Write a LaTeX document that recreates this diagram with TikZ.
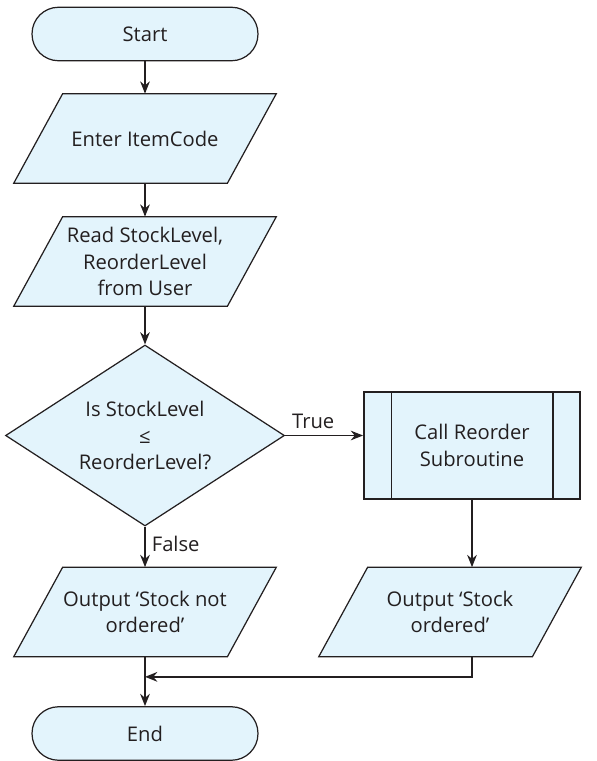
\documentclass[tikz,border=0pt]{standalone}
\usepackage{fontspec}
\setmainfont{Open Sans}
\usetikzlibrary{positioning, arrows.meta, calc, shapes.geometric, backgrounds}
\definecolor{chartFill}{RGB}{227,244,252}
\definecolor{chartInk}{RGB}{35,31,32}

\begin{document}
\begin{tikzpicture}[
    x=0.02cm, y=-0.02cm,
    >={Stealth[length=7pt, width=5.5pt]},
    font=\fontsize{11.5}{15}\selectfont,
    term/.style={draw=chartInk, fill=chartFill, rectangle, rounded corners=0.53cm,
                 minimum width=4.52cm, minimum height=1.07cm, line width=0.7pt,
                 text=chartInk},
    io/.style={rectangle, minimum width=4.26cm, minimum height=1.78cm,
               align=center, text=chartInk},
    iopath/.style={draw=chartInk, fill=chartFill, line width=0.7pt},
    ask/.style={draw=chartInk, fill=chartFill, diamond, aspect=1.54, inner sep=0pt,
                minimum width=5.58cm, minimum height=3.62cm, align=center,
                line width=0.7pt, text=chartInk},
    callbox/.style={draw=chartInk, fill=chartFill, rectangle, minimum width=4.32cm,
                    minimum height=2.14cm, align=center, line width=1.1pt,
                    text=chartInk},
    flow/.style={->, line width=0.7pt, chartInk},
    flowb/.style={->, line width=1.1pt, chartInk}
]
\useasboundingbox (0,0) rectangle (596,761);

\node[term] (start) at (145,34) {Start};
\node[io] (item) at (145,138.5) {Enter ItemCode};
\node[io] (read) at (145,261.5) {Read StockLevel,\\ReorderLevel\\from User};
\node[ask] (dec) at (145,435.5) {Is StockLevel\\≤\\ReorderLevel?};
\node[callbox] (call) at (472,445.5) {Call Reorder\\Subroutine};
\node[io] (outno) at (145,612) {Output ‘Stock not\\ordered’};
\node[io] (outyes) at (450,612) {Output ‘Stock\\ordered’};
\node[term] (stop) at (145,733.5) {End};

% ---- slanted input/output boxes behind their text ----
\begin{scope}[on background layer]
\foreach \n in {item, read, outno, outyes}{%
  \draw[iopath] ([xshift=0.49cm]\n.north west) -- ([xshift=0.49cm]\n.north east)
      -- ([xshift=-0.49cm]\n.south east) -- ([xshift=-0.49cm]\n.south west) -- cycle;
}
\end{scope}

% ---- side bars of the subroutine box ----
\draw[line width=0.6pt, chartInk] ([xshift=0.56cm]call.north west) -- ([xshift=0.56cm]call.south west);
\draw[line width=1.1pt, chartInk] ([xshift=-0.56cm]call.north east) -- ([xshift=-0.56cm]call.south east);

% ---- main flow ----
\draw[flow] (start) -- (item);
\draw[flow] (item) -- (read);
\draw[flow] (read) -- (dec);
\draw[flow] (dec.east) -- node[pos=0.36, above]{True} (dec.east -| call.west);
\draw[flowb] (dec.south) -- node[pos=0.42, right]{False} (outno);
\draw[flow] (call.south) -- (call.south |- outyes.north);

% ---- join back into the left column ----
\coordinate[below=0.4cm of outno.south] (join);
\draw[flowb] (call.south |- outyes.south) |- (join);
\draw[flowb] (outno) -- (stop);
\end{tikzpicture}
\end{document}
